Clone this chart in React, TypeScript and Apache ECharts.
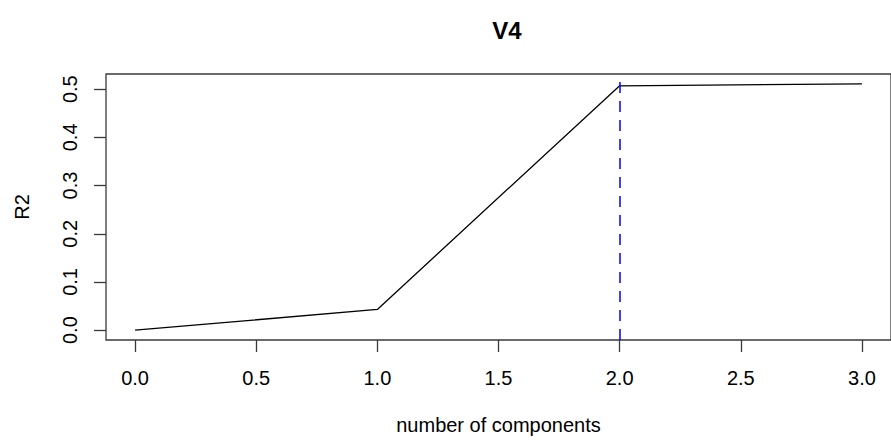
import React, { useEffect, useRef } from "react";
import * as echarts from "echarts";

// R2 against the number of components for V4
const components = [0, 1, 2, 3];
const r2Values = [0, 0.043, 0.507, 0.511];
const xTicks = [0, 0.5, 1, 1.5, 2, 2.5, 3];
const yTicks = [0, 0.1, 0.2, 0.3, 0.4, 0.5];
const chosenComponents = 2;

const FONT = '"Liberation Sans", Arial, Helvetica, sans-serif';

export default function App() {
  const ref = useRef<HTMLDivElement>(null);

  useEffect(() => {
    if (!ref.current) return;
    const chart = echarts.init(ref.current, null, { renderer: "svg" });

    // axis ranges padded by 4% on each side, as in R's default plot
    const xPad = (Math.max(...components) - Math.min(...components)) * 0.04;
    const yPad = (Math.max(...r2Values) - Math.min(...r2Values)) * 0.04;

    chart.setOption({
      animation: false,
      backgroundColor: "#ffffff",
      textStyle: { fontFamily: FONT },
      title: {
        text: "V4",
        left: 502,
        top: 13,
        textAlign: "center",
        textStyle: { fontFamily: FONT, fontSize: 24, fontWeight: "bold", color: "#000" },
      },
      grid: {
        left: 106,
        top: 74,
        width: 793.4,
        height: 266,
        show: true,
        borderColor: "#3a3a3a",
        borderWidth: 1.3,
        backgroundColor: "transparent",
      },
      xAxis: {
        type: "value",
        min: Math.min(...components) - xPad,
        max: Math.max(...components) + xPad,
        name: "number of components",
        nameLocation: "middle",
        nameGap: 75,
        nameTextStyle: { fontFamily: FONT, fontSize: 20, color: "#000" },
        axisLine: { show: false, onZero: false },
        splitLine: { show: false },
        axisTick: {
          show: true,
          length: 12,
          customValues: xTicks,
          lineStyle: { color: "#3a3a3a", width: 1.3 },
        },
        axisLabel: {
          customValues: xTicks,
          margin: 28,
          fontSize: 20,
          color: "#000",
          fontFamily: FONT,
          formatter: (v: number) => v.toFixed(1),
        },
      },
      yAxis: {
        type: "value",
        min: Math.min(...r2Values) - yPad,
        max: Math.max(...r2Values) + yPad,
        name: "R2",
        nameLocation: "middle",
        nameGap: 74,
        nameTextStyle: { fontFamily: FONT, fontSize: 20, color: "#000" },
        axisLine: { show: false, onZero: false },
        splitLine: { show: false },
        axisTick: {
          show: true,
          length: 12,
          customValues: yTicks,
          lineStyle: { color: "#3a3a3a", width: 1.3 },
        },
        axisLabel: {
          customValues: yTicks,
          rotate: 90,
          margin: 26,
          fontSize: 20,
          color: "#000",
          fontFamily: FONT,
          formatter: (v: number) => v.toFixed(1),
        },
      },
      series: [
        {
          type: "line",
          data: components.map((c, i) => [c, r2Values[i]]),
          symbol: "none",
          lineStyle: { color: "#000", width: 1.3 },
          markLine: {
            silent: true,
            symbol: "none",
            label: { show: false },
            lineStyle: { color: "#0000ff", width: 1.5, type: [11, 8] },
            data: [{ xAxis: chosenComponents }],
          },
        },
      ],
    });

    return () => chart.dispose();
  }, []);

  return (
    <div
      ref={ref}
      style={{ position: "fixed", left: 0, top: 0, width: 891, height: 441 }}
    />
  );
}
